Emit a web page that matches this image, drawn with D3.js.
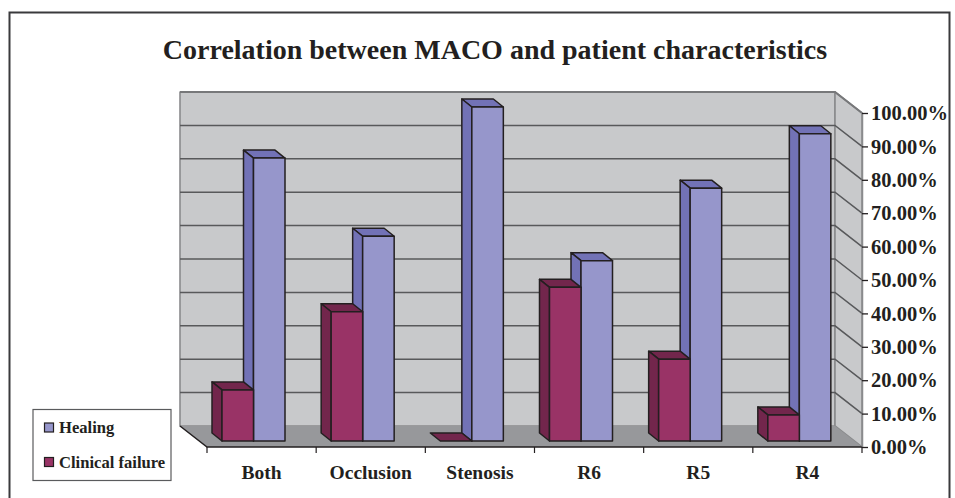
<!DOCTYPE html>
<html><head><meta charset="utf-8">
<script src="https://cdn.jsdelivr.net/npm/d3@7"></script>
<style>html,body{margin:0;padding:0;background:#fff;overflow:hidden}svg{display:block}
text{font-family:"Liberation Serif",serif;font-weight:bold;fill:#231f20}</style></head>
<body><svg id="c" width="955" height="498"></svg>
<script>
const categories=["Both","Occlusion","Stenosis","R6","R5","R4"];
const healing=[84.7,61.3,100,54,75.7,92];
const clinicalFailure=[15.3,38.7,0,46,24.5,7.8];
const yTicks=[0,10,20,30,40,50,60,70,80,90,100];
const titleText="Correlation between MACO and patient characteristics";
const colors={healing:"#9696cb",healingSide:"#7272b6",failure:"#993366",failureSide:"#72264c",wall:"#c8c9cb",floor:"#97989b",grid:"#58595b",edge:"#231f20",frame:"#3a3a3c"};

const svg=d3.select("#c");
const W={dx:27,dy:21},B={dx:10,dy:8},front={dx:0,dy:6};
const x=d3.scaleBand().domain(categories).range([207,862]);
const y=d3.scaleLinear().domain([0,100]).range([447,113]);
const poly=(pts,fill,stroke,sw)=>svg.append("polygon").attr("points",pts.map(p=>p.join(",")).join(" "))
  .attr("fill",fill).attr("stroke",stroke||"none").attr("stroke-width",sw||0).attr("stroke-linejoin","round");

// outer frame
svg.append("path").attr("d","M9.5,498V12.5H949.5V498").attr("fill","none").attr("stroke",colors.frame).attr("stroke-width",2);

// title
svg.append("text").attr("x",495).attr("y",59).attr("text-anchor","middle").attr("font-size",28).text(titleText);

// walls
const [xl,xr]=x.range();
poly([[xl-W.dx,y(100)-W.dy],[xr-W.dx,y(100)-W.dy],[xr-W.dx,y(0)-W.dy],[xl-W.dx,y(0)-W.dy]],colors.wall,"#8a8b8d",1.6);
poly([[xr-W.dx,y(100)-W.dy],[xr,y(100)],[xr,y(0)],[xr-W.dx,y(0)-W.dy]],colors.wall,"#8a8b8d",1.6);
poly([[xl-W.dx,y(0)-W.dy],[xr-W.dx,y(0)-W.dy],[xr,y(0)],[xl,y(0)]],colors.floor);

// gridlines
yTicks.filter(t=>t>0).forEach(t=>{
  svg.append("path").attr("fill","none").attr("stroke",t===100?"#77787a":colors.grid).attr("stroke-width",t===100?1.8:1.5)
    .attr("d",`M${xl-W.dx},${y(t)-W.dy}H${xr-W.dx}L${xr},${y(t)}`);
});
// floor / axis lines
svg.append("path").attr("d",`M${xl-W.dx},${y(0)-W.dy}L${xl},${y(0)}H${xr}`).attr("fill","none").attr("stroke",colors.edge).attr("stroke-width",1.5);

// bars
function bar(cx,w,v,main,side){
  const x0=cx,x1=cx+w,yb=y(0)-front.dy,yt=y(v)-front.dy;
  poly([[x0,yt],[x0-B.dx,yt-B.dy],[x1-B.dx,yt-B.dy],[x1,yt]],side,colors.edge,1.5);
  if(v>0){
    poly([[x0,yt],[x0-B.dx,yt-B.dy],[x0-B.dx,yb-B.dy],[x0,yb]],side,colors.edge,1.5);
    poly([[x0,yt],[x1,yt],[x1,yb],[x0,yb]],main,colors.edge,1.5);
  }
}
const barW=31.5,inset=15;
categories.forEach((c,i)=>{
  const left=x(c)+inset;
  bar(left+barW,barW,healing[i],colors.healing,colors.healingSide);
  bar(left,barW,clinicalFailure[i],colors.failure,colors.failureSide);
});

// right value axis
const yAxis=d3.axisRight(y).tickValues(yTicks).tickSize(6).tickFormat(d=>d3.format(".2f")(d)+"%");
const gy=svg.append("g").attr("transform",`translate(${xr},0)`).call(yAxis);
gy.select(".domain").attr("stroke-width",1.5).attr("d",`M0.5,${y(100)}V${y(0)}`).attr("stroke","#8a8b8d");
gy.selectAll(".tick line").attr("stroke",colors.edge).attr("stroke-width",1.3);
gy.selectAll(".tick text").attr("x",9).attr("dy","0.33em").attr("font-size",20.5).attr("fill","#231f20").attr("font-family","Liberation Serif");

// bottom category axis
const xAxis=d3.axisBottom(x).tickSize(0);
const gx=svg.append("g").attr("transform",`translate(0,${y(0)})`).call(xAxis);
gx.select(".domain").remove();
gx.selectAll(".tick text").attr("y",25).attr("dy","0.36em").attr("font-size",19.5).attr("fill","#231f20").attr("font-family","Liberation Serif");
d3.range(categories.length+1).forEach(i=>{
  const px=i<categories.length?x(categories[i]):xr;
  svg.append("line").attr("x1",px).attr("x2",px).attr("y1",y(0)).attr("y2",y(0)+6).attr("stroke",colors.edge).attr("stroke-width",1.2);
});

// legend
svg.append("rect").attr("x",33).attr("y",409.5).attr("width",138).attr("height",71).attr("fill","#fff").attr("stroke","#5a5b5d").attr("stroke-width",1.2);
[["Healing",colors.healing,423],["Clinical failure",colors.failure,457.5]].forEach(([t,c,yy])=>{
  svg.append("rect").attr("x",44.5).attr("y",yy).attr("width",9).attr("height",9).attr("fill",c).attr("stroke",colors.edge).attr("stroke-width",1.2);
  svg.append("text").attr("x",59).attr("y",yy+10).attr("font-size",16.6).text(t);
});
</script></body></html>
